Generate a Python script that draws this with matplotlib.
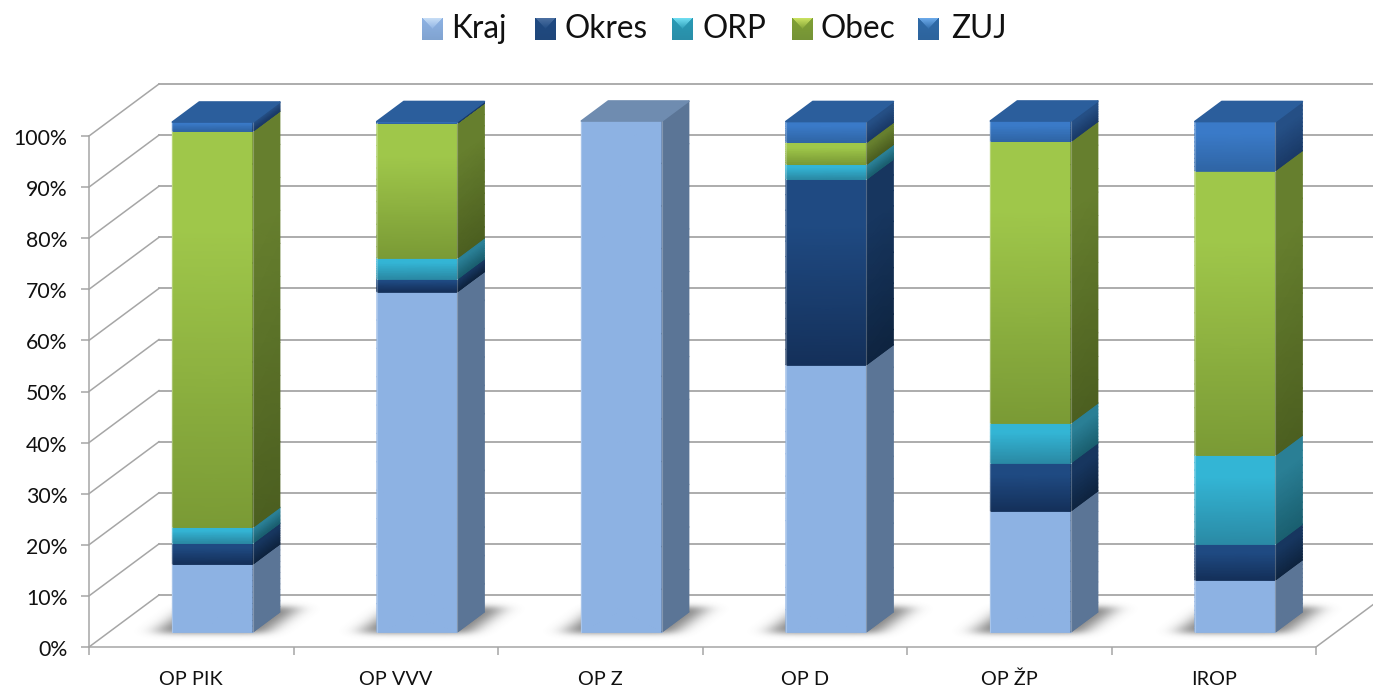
import matplotlib
matplotlib.use("Agg")
import matplotlib.pyplot as plt
from matplotlib.colors import to_rgb
from matplotlib.patches import Polygon
from matplotlib.transforms import ScaledTranslation
import numpy as np

W, H = 1373, 689

categories = ["OP PIK", "OP VVV", "OP Z", "OP D", "OP ŽP", "IROP"]
series_names = ["Kraj", "Okres", "ORP", "Obec", "ZUJ"]
kraj = [13.3, 66.6, 100.0, 52.3, 23.7, 10.2]
okres = [4.1, 2.5, 0.0, 36.3, 9.4, 7.0]
orp = [3.1, 4.1, 0.0, 2.9, 7.8, 17.4]
obec = [77.5, 26.4, 0.0, 4.3, 55.1, 55.7]
zuj = [1.8, 0.3, 0.0, 4.1, 4.0, 9.6]
series = [kraj, okres, orp, obec, zuj]

# colours: front top, front bottom, side top, side bottom, top face
colors = {
    "Kraj": ("#8db2e3", "#8db2e3", "#5b7596", "#5b7596", "#6f8cb0"),
    "Okres": ("#1f4a82", "#14305a", "#17365f", "#0e2440", "#17365f"),
    "ORP": ("#33b5d5", "#2a8aa5", "#2a7f95", "#1a5f70", "#2a7f95"),
    "Obec": ("#9fc74a", "#7a9a35", "#667f2e", "#4c5f20", "#667f2e"),
    "ZUJ": ("#3a7ac8", "#2f65a5", "#254f85", "#1a3a68", "#2b5e9c"),
}
legend_colors = {
    "Kraj": ("#c5dcf5", "#8db2e3"),
    "Okres": ("#4a6fa0", "#1f4a82"),
    "ORP": ("#6fdcf0", "#2a9ab5"),
    "Obec": ("#c8e060", "#80a035"),
    "ZUJ": ("#6aa8e8", "#2f6aa8"),
}
grid_color = "#a6a6a6"

# axes scale: px per category / per percent, and the depth of the 3D box
cat_px = 204.5
pct_px = 5.11
depth_x = 70 / cat_px
depth_y = 52 / pct_px
bar_off = 0.309
bar_w = 0.394
d_front = 15 / 52
d_back = 35 / 52


def proj(x, val, d):
    return x + d * depth_x, val + d * depth_y


def mix(c1, c2, t):
    return tuple(a + (b - a) * t for a, b in zip(to_rgb(c1), to_rgb(c2)))


def gradient_face(ax, p_bl, p_br, p_tr, p_tl, c_top, c_bot, n=12):
    t = np.linspace(0, 1, n + 1)
    X = np.zeros((n + 1, 2))
    Y = np.zeros((n + 1, 2))
    C = np.zeros((n + 1, 2, 3))
    for i, ti in enumerate(t):
        X[i, 0] = p_tl[0] + (p_bl[0] - p_tl[0]) * ti
        Y[i, 0] = p_tl[1] + (p_bl[1] - p_tl[1]) * ti
        X[i, 1] = p_tr[0] + (p_br[0] - p_tr[0]) * ti
        Y[i, 1] = p_tr[1] + (p_br[1] - p_tr[1]) * ti
        C[i, :] = mix(c_top, c_bot, max(0, (ti - 0.25) / 0.75))
    ax.pcolormesh(X, Y, C, shading="gouraud", zorder=4)
    # soften the jagged slanted edges
    ax.plot([p_tl[0], p_tr[0]], [p_tl[1], p_tr[1]], color=c_top, lw=0.6, zorder=4)
    ax.plot([p_bl[0], p_br[0]], [p_bl[1], p_br[1]], color=c_bot, lw=0.6, zorder=4)


fig = plt.figure(figsize=(W / 100, H / 100), dpi=100, facecolor="white")
plt.rcParams["font.family"] = "Lato"
ax = fig.add_axes([89 / W, (H - 647) / H, (W - 89) / W, 647 / H])
xmax = (W - 89) / cat_px
ymax = 647 / pct_px
ax.patch.set_alpha(0)

# floor shadows: a sheared rectangle under each bar, then blurred
xs = np.linspace(0, xmax, W - 89)
ys = np.linspace(ymax, 0, 647)
gx, gy = np.meshgrid(xs, ys)
gd = gy / depth_y
gxs = gx - gd * depth_x

alpha = np.zeros(gx.shape)
for i in range(len(categories)):
    u = gxs - i
    alpha[(u > 0.23) & (u < 0.77) & (gd > 0.26) & (gd < 0.76)] = 1.0
kernel = np.exp(-0.5 * (np.arange(-30, 31) / 10.0) ** 2)
kernel /= kernel.sum()
for r in range(500, alpha.shape[0]):
    alpha[r] = np.convolve(alpha[r], kernel, mode="same")
kernel = np.exp(-0.5 * (np.arange(-10, 11) / 3.0) ** 2)
kernel /= kernel.sum()
for c in range(alpha.shape[1]):
    alpha[:, c] = np.convolve(alpha[:, c], kernel, mode="same")
shadow = np.zeros(gx.shape + (4,))
shadow[..., :3] = 0.3
shadow[..., 3] = alpha * 0.72
ax.imshow(shadow, extent=(0, xmax, 0, ymax), aspect="auto", zorder=1, interpolation="bilinear")

# walls
for v in np.arange(0, 101, 10):
    x1, y1 = proj(0, v, 1)
    ax.plot([0, x1], [v, y1], color=grid_color, lw=1.1, zorder=2, clip_on=False)
    ax.plot([x1, xmax], [y1, y1], color=grid_color, lw=1.3, zorder=2)
x1, y1 = proj(len(categories), 0, 1)
ax.plot([len(categories), x1], [0, y1], color=grid_color, lw=1.1, zorder=2)

# stacked bars
for i in range(len(categories)):
    x0 = i + bar_off
    x2 = x0 + bar_w
    bottom = 0
    top_name = series_names[0]
    for name, vals in zip(series_names, series):
        v = vals[i]
        if v <= 0:
            continue
        cf_t, cf_b, cs_t, cs_b, _ = colors[name]
        top = bottom + v
        fl, fr = proj(x0, bottom, d_front), proj(x2, bottom, d_front)
        ftl, ftr = proj(x0, top, d_front), proj(x2, top, d_front)
        bl, btl = proj(x2, bottom, d_back), proj(x2, top, d_back)
        gradient_face(ax, fl, fr, ftr, ftl, cf_t, cf_b)
        gradient_face(ax, fr, bl, btl, ftr, cs_t, cs_b)
        ax.plot([fl[0], ftl[0]], [fl[1], ftl[1]], color="white", alpha=0.25, lw=0.8, zorder=5)
        ax.plot([fr[0], ftr[0]], [fr[1], ftr[1]], color="white", alpha=0.25, lw=0.8, zorder=5)
        bottom = top
        top_name = name
    pts = [proj(x0, bottom, d_front), proj(x2, bottom, d_front),
           proj(x2, bottom, d_back), proj(x0, bottom, d_back)]
    c_top = colors[top_name][4]
    ax.add_patch(Polygon(pts, closed=True, facecolor=c_top, edgecolor=c_top,
                         lw=1.2, joinstyle="round", zorder=5))

ax.set_xlim(0, xmax)
ax.set_ylim(0, ymax)
for s in ["top", "right"]:
    ax.spines[s].set_visible(False)
for s in ["left", "bottom"]:
    ax.spines[s].set_color(grid_color)
    ax.spines[s].set_linewidth(1.1)
ax.spines["left"].set_bounds(0, 100)
ax.spines["bottom"].set_bounds(0, len(categories))

ax.set_yticks(np.arange(0, 101, 10))
ax.set_yticklabels([f"{v}%" for v in range(0, 101, 10)], fontsize=15.3, color="#111111")
ax.tick_params(axis="y", length=6, width=1.1, color=grid_color, pad=9.5)
down = ScaledTranslation(0, -1 / 100, fig.dpi_scale_trans)
for t in ax.get_yticklabels():
    t.set_transform(t.get_transform() + down)
ax.set_xticks(np.arange(len(categories) + 1))
ax.set_xticklabels([])
ax.tick_params(axis="x", which="major", length=6, width=1.1, color=grid_color)
ax.set_xticks(np.arange(len(categories)) + 0.5, minor=True)
ax.set_xticklabels(categories, minor=True, fontsize=14.3, color="#111111")
ax.tick_params(axis="x", which="minor", length=0, pad=17)

# legend
square_x = [422, 535, 672, 792, 918]
label_x = [451, 564, 702, 821, 951]
for name, sx, lx in zip(series_names, square_x, label_x):
    lax = fig.add_axes([sx / W, (H - 40) / H, 21 / W, 22 / H])
    n = 21
    c_light, c_base = legend_colors[name]
    img = np.zeros((n, n, 3))
    for r in range(n):
        for c in range(n):
            if r < c and r < n - 1 - c:
                img[r, c] = mix(c_light, c_base, r / (n / 2))
            else:
                img[r, c] = mix(c_base, "#223344", 0.12 * r / n)
    lax.imshow(img, aspect="auto", interpolation="bilinear")
    lax.axis("off")
    fig.text(lx / W, (H - 29) / H, name, fontsize=22.7, color="#111111", va="center", ha="left")

fig.savefig("out.png", dpi=100)
